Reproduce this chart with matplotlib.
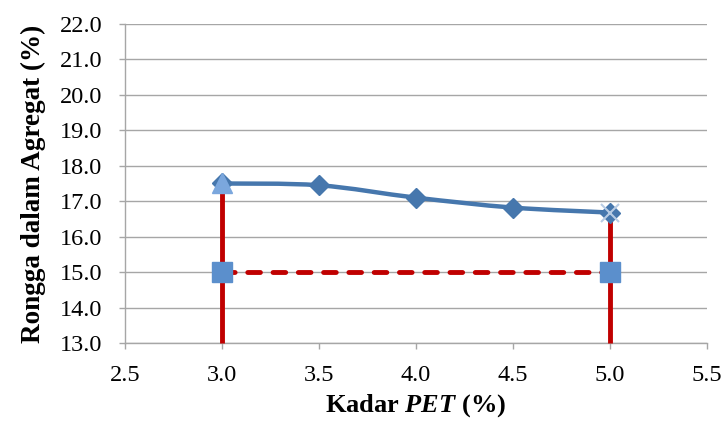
import numpy as np
import matplotlib
matplotlib.use('Agg')
import matplotlib.pyplot as plt
from matplotlib.path import Path
from matplotlib.patches import PathPatch

plt.rcParams['font.family'] = ['Liberation Serif', 'DejaVu Serif']
plt.rcParams['mathtext.fontset'] = 'custom'
plt.rcParams['mathtext.it'] = 'Liberation Serif:italic:bold'
plt.rcParams['mathtext.rm'] = 'Liberation Serif:bold'

kadar = [3.0, 3.5, 4.0, 4.5, 5.0]
rongga = [17.5, 17.45, 17.1, 16.82, 16.68]
batas_x = [3.0, 5.0]
batas_y = 15.0
awal = (3.0, 17.5)
akhir = (5.0, 16.68)

blue = '#4677AD'


def smooth_path(x, y):
    # Bezier smoothing similar to a spreadsheet "smoothed line"
    pts = np.column_stack([x, y])
    verts = [pts[0]]
    codes = [Path.MOVETO]
    n = len(pts)
    for i in range(n - 1):
        p0 = pts[i - 1] if i > 0 else pts[i]
        p1 = pts[i]
        p2 = pts[i + 1]
        p3 = pts[i + 2] if i + 2 < n else pts[i + 1]
        c1 = p1 + (p2 - p0) / 6.0
        c2 = p2 - (p3 - p1) / 6.0
        verts += [c1, c2, p2]
        codes += [Path.CURVE4] * 3
    return Path(verts, codes)


fig = plt.figure(figsize=(7.21, 4.23), dpi=100)
ax = fig.add_axes([0.1734, 0.1891, 0.8072, 0.7542])

ax.set_xlim(2.5, 5.5)
ax.set_ylim(13.0, 22.0)
ax.set_xticks(np.arange(2.5, 5.51, 0.5))
ax.set_yticks(np.arange(13.0, 22.01, 1.0))
ax.xaxis.set_major_formatter(matplotlib.ticker.FormatStrFormatter('%.1f'))
ax.yaxis.set_major_formatter(matplotlib.ticker.FormatStrFormatter('%.1f'))
ax.grid(axis='y', color='#A6A6A6', linewidth=1.0)
ax.set_axisbelow(True)
for s in ['top', 'right']:
    ax.spines[s].set_visible(False)
for s in ['left', 'bottom']:
    ax.spines[s].set_color('#A6A6A6')
    ax.spines[s].set_linewidth(1.0)
ax.tick_params(axis='both', colors='#A6A6A6', labelcolor='black',
               labelsize=17.5, length=4.5, width=1.0)
ax.tick_params(axis='x', pad=11)
ax.tick_params(axis='y', pad=12)

# red limits
for bx, top in zip(batas_x, [awal[1], akhir[1]]):
    ax.plot([bx, bx], [13.0, top], color='#C00000', linewidth=3.5,
            solid_capstyle='butt', zorder=3, clip_on=False)
ax.plot(batas_x, [batas_y, batas_y], color='#C00000', linewidth=3.5,
        linestyle=(0, (2.6, 2.6)), dash_capstyle='round', zorder=3)
ax.plot(batas_x, [batas_y, batas_y], linestyle='none', marker='s',
        markersize=14, color='#5B8FCC', zorder=4)

# smoothed curve
ax.add_patch(PathPatch(smooth_path(kadar, rongga), facecolor='none',
                       edgecolor=blue, linewidth=3.2, zorder=5,
                       capstyle='round'))
ax.plot(kadar, rongga, linestyle='none', marker='D', markersize=10,
        color=blue, zorder=6)
ax.plot([awal[0]], [awal[1]], marker='^', markersize=14, color='#7BA7DD',
        linestyle='none', zorder=7)
ax.plot([akhir[0]], [akhir[1]], marker='x', markersize=13, color='#B8CCE4',
        markeredgewidth=1.5, linestyle='none', zorder=7)

ax.set_xlabel('Kadar $\\mathit{PET}$ (%)', fontsize=19, fontweight='bold',
              labelpad=5)
ax.set_ylabel('Rongga dalam Agregat (%)', fontsize=19.5, fontweight='bold',
              labelpad=10)

fig.savefig('out.png', dpi=100)
